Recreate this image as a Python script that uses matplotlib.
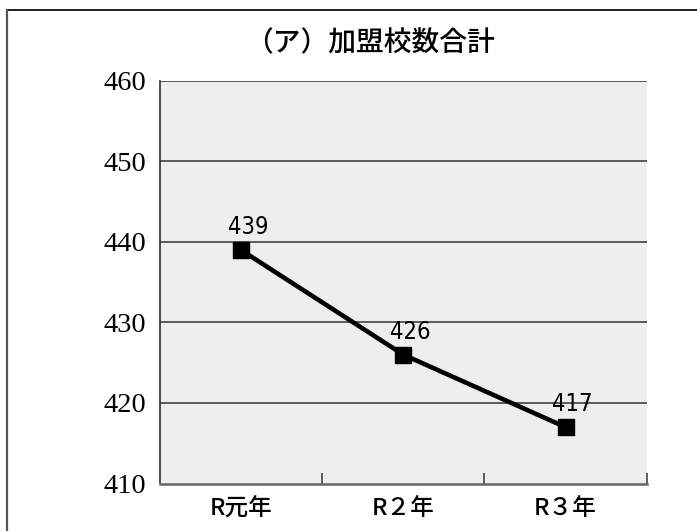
import matplotlib
matplotlib.use("Agg")
import matplotlib.pyplot as plt
from matplotlib.lines import Line2D

# Data
years = ["R元年", "R２年", "R３年"]
schools = [439, 426, 417]
y_ticks = [410, 420, 430, 440, 450, 460]

W, H, DPI = 697, 531, 100
fig = plt.figure(figsize=(W / DPI, H / DPI), dpi=DPI)
fig.patch.set_facecolor("white")

ax = fig.add_axes([160 / W, 1 - 483.5 / H, 486.7 / W, (483.5 - 81) / H])
ax.set_facecolor("#eeeeee")

x = list(range(len(years)))
ax.plot(x, schools, color="black", lw=3.3, marker="s", markersize=11.5,
        markerfacecolor="black", markeredgecolor="black", zorder=3,
        solid_joinstyle="miter")

for xi, v in zip(x, schools):
    ax.annotate(f"{v}", (xi, v), xytext=(5, 8), textcoords="offset points",
                ha="center", va="bottom", fontsize=17, stretch="condensed",
                family=["DejaVu Sans"], zorder=4)

ax.set_xlim(-0.5, len(years) - 0.5)
ax.set_ylim(y_ticks[0], y_ticks[-1])

# Horizontal gridlines
for yv in y_ticks[1:]:
    ax.axhline(yv, color="#333333", lw=1.1, zorder=1)

ax.set_yticks(y_ticks)
ax.set_yticklabels([str(t) for t in y_ticks], family=["Liberation Serif", "DejaVu Serif"],
                   fontsize=20.5)
ax.tick_params(axis="y", length=0, pad=10)

ax.set_xticks(x)
ax.set_xticklabels(years, family=["Noto Sans CJK JP", "DejaVu Sans"], fontsize=17,
                   weight="medium")
ax.tick_params(axis="x", which="major", length=0, pad=10)

# Inward category separator marks on the bottom axis
bounds = [i + 0.5 for i in range(len(years))]
ax.vlines(bounds, 0, 0.026, transform=ax.get_xaxis_transform(),
          color="#444444", lw=1.2, zorder=2, clip_on=False)

for s in ("top", "right"):
    ax.spines[s].set_visible(False)
ax.spines["left"].set_color("#222222")
ax.spines["left"].set_linewidth(1.1)
ax.spines["bottom"].set_color("#666666")
ax.spines["bottom"].set_linewidth(1.8)

fig.text(370 / W, 1 - 43 / H, "（ア）加盟校数合計", ha="center", va="center",
         fontsize=20, weight="medium", family=["Noto Sans CJK JP", "DejaVu Sans"])

# Frame lines around the chart
fig.add_artist(Line2D([7 / W, 1], [1 - 10 / H, 1 - 10 / H], transform=fig.transFigure,
                      color="#111111", lw=1.3))
fig.add_artist(Line2D([7 / W, 7 / W], [1 - 10 / H, 0], transform=fig.transFigure,
                      color="#555555", lw=1.6))

fig.savefig("out.png", dpi=DPI)
